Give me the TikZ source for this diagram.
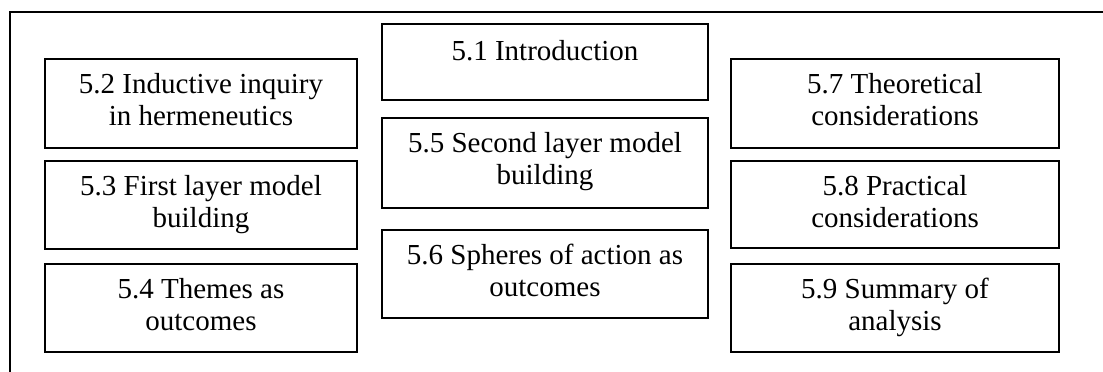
\documentclass[tikz,border=0pt]{standalone}
\usepackage{fontspec}
\setmainfont{Liberation Serif}
\usetikzlibrary{calc}
\begin{document}
\begin{tikzpicture}[x=1pt,y=-1pt,
  section/.style={draw, line width=1.6pt, inner sep=0pt},
  leftcol/.style={section, minimum width=312pt},
  midcol/.style={section, minimum width=326pt},
  rightcol/.style={section, minimum width=328pt},
  lbl/.style={anchor=north, inner sep=0pt, align=center,
    font=\fontsize{29}{32}\selectfont, execute at begin node=\strut}]
  \useasboundingbox (0,0) rectangle (1103,372);
  % open frame: left and top rules only
  \draw[line width=1.6pt] (10,372) -- (10,12) -- (1103,12);

  % left column
  \node[leftcol, minimum height=89pt] (s52) at (201,103.5) {};
  \node[leftcol, minimum height=88pt] (s53) at (201,205) {};
  \node[leftcol, minimum height=88pt] (s54) at (201,308) {};
  % middle column
  \node[midcol, minimum height=76pt] (s51) at (545,62) {};
  \node[midcol, minimum height=90pt] (s55) at (545,163) {};
  \node[midcol, minimum height=88pt] (s56) at (545,274) {};
  % right column
  \node[rightcol, minimum height=89pt] (s57) at (895,103.5) {};
  \node[rightcol, minimum height=87pt] (s58) at (895,204.5) {};
  \node[rightcol, minimum height=88pt] (s59) at (895,308) {};

  % labels, first baseline about 37pt below each box top
  \node[lbl] (t51) at ($(s51.north)+(0,14.6)$) {5.1 Introduction};
  \node[lbl] (t52) at ($(s52.north)+(0,14.6)$) {5.2 Inductive inquiry\\\strut in hermeneutics};
  \node[lbl] (t53) at ($(s53.north)+(0,14.6)$) {5.3 First layer model\\\strut building};
  \node[lbl] (t54) at ($(s54.north)+(0,14.6)$) {5.4 Themes as\\\strut outcomes};
  \node[lbl] (t55) at ($(s55.north)+(0,14.6)$) {5.5 Second layer model\\\strut building};
  \node[lbl] (t56) at ($(s56.north)+(0,14.6)$) {5.6 Spheres of action as\\\strut outcomes};
  \node[lbl] (t57) at ($(s57.north)+(0,14.6)$) {5.7 Theoretical\\\strut considerations};
  \node[lbl] (t58) at ($(s58.north)+(0,14.6)$) {5.8 Practical\\\strut considerations};
  \node[lbl] (t59) at ($(s59.north)+(0,14.6)$) {5.9 Summary of\\\strut analysis};
\end{tikzpicture}
\end{document}
